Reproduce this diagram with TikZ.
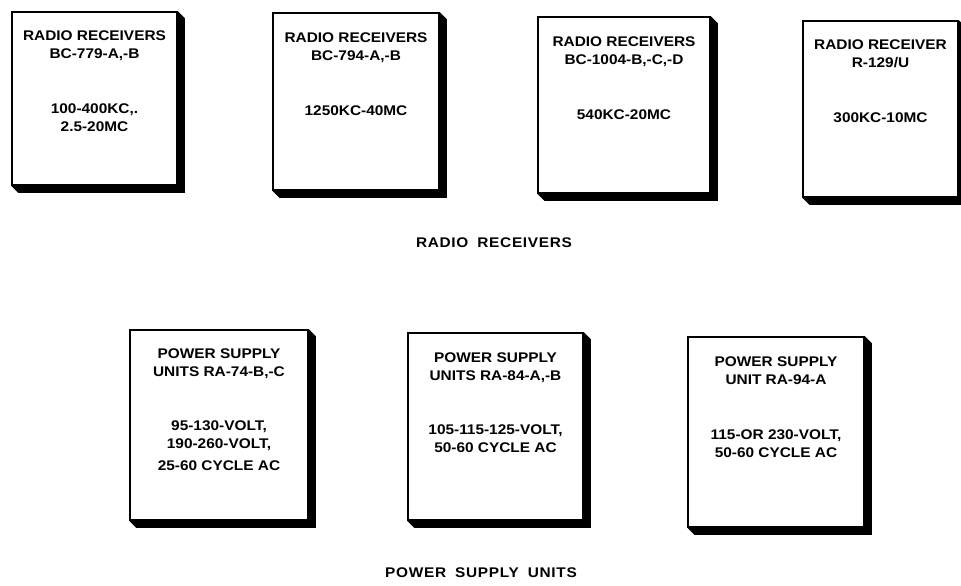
\documentclass[tikz,border=0pt]{standalone}
\usepackage{fontspec}
\setmainfont{Liberation Sans}[FakeStretch=1.1]
\newfontfamily\captionfont{Liberation Sans}[FakeStretch=1.1, LetterSpace=5, WordSpace=1.8]
\usetikzlibrary{positioning}

\begin{document}
\begin{tikzpicture}[
  x=1pt, y=-1pt,
  unit/.style={draw, line width=1.5pt, fill=white, inner sep=0pt},
  legend/.style={anchor=north, inner sep=0pt, align=center, font=\fontsize{14}{18}\selectfont\bfseries},
  caption/.style={inner sep=0pt, font=\captionfont\fontsize{14}{18}\selectfont\bfseries}
]
  \useasboundingbox (0,0) rectangle (961,586);

  % radio receivers
  \node[unit, minimum width=165pt, minimum height=173pt] (rx1) at (94.5,98.5) {};
  \node[unit, minimum width=166pt, minimum height=177pt] (rx2) at (356,101.5) {};
  \node[unit, minimum width=172pt, minimum height=176pt] (rx3) at (624,105) {};
  \node[unit, minimum width=155pt, minimum height=176pt] (rx4) at (880.5,109) {};

  % power supply units
  \node[unit, minimum width=178pt, minimum height=190pt] (ps1) at (219,425) {};
  \node[unit, minimum width=175pt, minimum height=187pt] (ps2) at (495.5,426.5) {};
  \node[unit, minimum width=176pt, minimum height=190pt] (ps3) at (776,432) {};

  % shadows
  \foreach \u in {rx1,rx2,rx3,rx4,ps1,ps2,ps3}
    \fill (\u.north east) -- ([shift={(7pt,-7pt)}]\u.north east)
      -- ([shift={(7pt,-7pt)}]\u.south east) -- ([shift={(7pt,-7pt)}]\u.south west)
      -- (\u.south west) -- (\u.south east) -- cycle;

  \node[legend, below=19pt of rx1.north] (rx1t) {RADIO RECEIVERS\\BC-779-A,-B\\[37pt]100-400KC,.\\2.5-20MC};
  \node[legend, below=20pt of rx2.north] (rx2t) {RADIO RECEIVERS\\BC-794-A,-B\\[37pt]1250KC-40MC};
  \node[legend, below=20pt of rx3.north] (rx3t) {RADIO RECEIVERS\\BC-1004-B,-C,-D\\[37pt]540KC-20MC};
  \node[legend, below=19pt of rx4.north] (rx4t) {RADIO RECEIVER\\R-129/U\\[37pt]300KC-10MC};

  \node[legend, below=19pt of ps1.north] (ps1t) {POWER SUPPLY\\UNITS RA-74-B,-C\\[36pt]95-130-VOLT,\\190-260-VOLT,\\[4pt]25-60 CYCLE AC};
  \node[legend, below=20pt of ps2.north] (ps2t) {POWER SUPPLY\\UNITS RA-84-A,-B\\[36pt]105-115-125-VOLT,\\50-60 CYCLE AC};
  \node[legend, below=20pt of ps3.north] (ps3t) {POWER SUPPLY\\UNIT RA-94-A\\[37pt]115-OR 230-VOLT,\\50-60 CYCLE AC};

  % group captions
  \node[caption] (rxcap) at (494,243) {RADIO RECEIVERS};
  \node[caption] (pscap) at (481,573) {POWER SUPPLY UNITS};
\end{tikzpicture}
\end{document}
